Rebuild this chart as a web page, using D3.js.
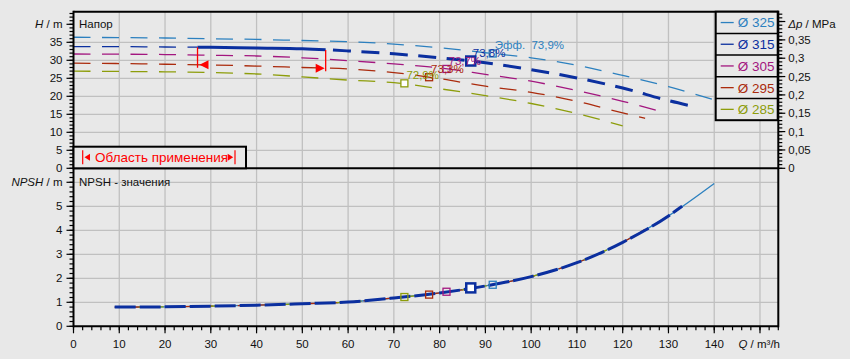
<!DOCTYPE html>
<html><head><meta charset="utf-8">
<script src="https://cdn.jsdelivr.net/npm/d3@7"></script>
<style>
html,body{margin:0;padding:0;background:#e8e8e8;}
svg{display:block;font-family:"Liberation Sans",Arial,sans-serif;}
</style></head><body>
<svg id="c" width="850" height="359"></svg>
<script>
// ---------- data ----------
const diameters = ["Ø 325","Ø 315","Ø 305","Ø 295","Ø 285"];
const colors = ["#2c80bf","#0b2f9f","#a3167f","#ab2b0d","#8d9d0b"];
const q325 = [0,10,20,30,40,50,60,70,80,90,100,110,120,130,140];
const h325 = [36.4,36.3,36.2,36.0,35.8,35.5,35.2,34.5,33.5,32.1,30.7,28.6,25.8,22.7,19.0];
const q315 = [0,10,20,30,40,50,60,70,80,90,100,110,120,130,135];
const h315 = [33.8,33.8,33.7,33.6,33.4,33.2,32.6,31.8,30.7,29.3,27.4,25.1,22.3,18.8,17.3];
const q305 = [0,10,20,30,40,50,60,70,80,90,100,110,120,129.2];
const h305 = [31.75,31.7,31.6,31.4,31.2,30.7,29.9,29.0,27.9,26.1,24.2,21.6,18.6,15.5];
const q295 = [0,10,20,30,40,50,60,70,80,90,100,110,120,124.9];
const h295 = [29.2,29.1,28.9,28.7,28.4,28.0,27.6,26.6,24.9,22.8,21.1,18.6,15.4,13.9];
const q285 = [0,10,20,30,40,50,60,70,80,90,100,110,120];
const h285 = [27.0,26.9,26.8,26.6,26.2,25.4,24.5,23.8,22.1,20.2,18.0,15.2,11.8];
const qNpsh = [9,20,30,40,50,60,70,80,90,100,110,120,130,140];
const npsh  = [0.80,0.81,0.84,0.88,0.94,1.01,1.18,1.39,1.68,2.07,2.65,3.5,4.6,5.95];
const npshEnd = [140,133,129.2,124.9,120];
const bepQ = [91.6,86.8,81.5,77.7,72.3];
const bepH = [31.9,29.8,27.6,25.3,23.6];
const bepNpsh = [1.73,1.6,1.44,1.32,1.22];
const bepLabels = ["Эфф.  73,9%","73,8%","73,7%","73,3%","72,9%"];
const rangeQ = [27.1,55.1];
const xTicks = [0,10,20,30,40,50,60,70,80,90,100,110,120,130,140];
const hTicks = [0,5,10,15,20,25,30,35];
const npshTicks = [0,1,2,3,4,5];
const dpTicks = [0,0.05,0.1,0.15,0.2,0.25,0.3,0.35];

const qs = [q325,q315,q305,q295,q285];
const hs = [h325,h315,h305,h295,h285];

// ---------- scales ----------
const svg = d3.select("#c");
const L = 73.5, R = 778.3, T = 11.7, MID = 168.3, B = 326.3;
const x = d3.scaleLinear().domain([0,154]).range([L,R]);
const yH = d3.scaleLinear().domain([0,43.5]).range([MID,T]);
const yN = d3.scaleLinear().domain([0,6.583]).range([B,MID]);
const yP = d3.scaleLinear().domain([0,43.5*0.00981]).range([MID,T]);
const comma = v => String(+v.toFixed(2)).replace(".",",");

svg.append("rect").attr("width",850).attr("height",359).attr("fill","#e8e8e8");

// ---------- grid ----------
const grid = svg.append("g").attr("stroke","#c0c0c0").attr("stroke-width",1.3);
d3.range(10,151,10).forEach(v=>{
  grid.append("line").attr("x1",x(v)).attr("x2",x(v)).attr("y1",T).attr("y2",B);
});
d3.range(5,36,5).forEach(v=>{
  grid.append("line").attr("x1",L).attr("x2",R).attr("y1",yH(v)).attr("y2",yH(v));
});
d3.range(1,7,1).forEach(v=>{
  grid.append("line").attr("x1",L).attr("x2",R).attr("y1",yN(v)).attr("y2",yN(v));
});

// ---------- clip paths ----------
const defs = svg.append("defs");
function clip(id,x0,x1){
  defs.append("clipPath").attr("id",id).append("rect")
    .attr("x",x0).attr("y",0).attr("width",x1-x0).attr("height",359);
}
clip("cA",0,x(rangeQ[0]));
clip("cB",x(rangeQ[0]),x(rangeQ[1]));
clip("cC",x(rangeQ[1]),850);

const lineH = d3.line().x(d=>x(d[0])).y(d=>yH(d[1])).curve(d3.curveMonotoneX);
const lineN = d3.line().x(d=>x(d[0])).y(d=>yN(d[1])).curve(d3.curveMonotoneX);

// ---------- H curves ----------
const gH = svg.append("g").attr("fill","none");
[4,3,2,0].forEach(i=>{
  const pts = qs[i].map((q,j)=>[q,hs[i][j]]);
  gH.append("path").attr("d",lineH(pts)).attr("stroke",colors[i])
    .attr("stroke-width",1.3).attr("stroke-dasharray","17,11.5");
});
{
  const pts = q315.map((q,j)=>[q,h315[j]]);
  gH.append("path").attr("d",lineH(pts)).attr("stroke",colors[1]).attr("stroke-width",1.3)
    .attr("stroke-dasharray","17,11.5").attr("clip-path","url(#cA)");
  gH.append("path").attr("d",lineH(pts)).attr("stroke",colors[1]).attr("stroke-width",3)
    .attr("clip-path","url(#cB)");
  gH.append("path").attr("d",lineH(pts)).attr("stroke",colors[1]).attr("stroke-width",3)
    .attr("stroke-dasharray","18,10.5").attr("stroke-dashoffset",-3).attr("clip-path","url(#cC)");
}

// ---------- application range markers ----------
function interp(qa,ha,q){
  for(let j=0;j<qa.length-1;j++){
    if(q>=qa[j]&&q<=qa[j+1]){const t=(q-qa[j])/(qa[j+1]-qa[j]);return ha[j]+t*(ha[j+1]-ha[j]);}
  }
  return ha[ha.length-1];
}
const gR = svg.append("g");
rangeQ.forEach((q,k)=>{
  const xt = x(q);
  const yTop = yH(interp(q315,h315,q));
  const yArr = yH(interp(q295,h295,q));
  gR.append("line").attr("x1",xt).attr("x2",xt).attr("y1",yTop).attr("y2",yArr+3)
    .attr("stroke","#ff0000").attr("stroke-width",1.3);
  const dir = k===0 ? 1 : -1;
  const tip = k===0 ? xt+2 : xt-1;
  gR.append("path").attr("d",`M${tip},${yArr}L${tip+dir*9},${yArr-4.5}L${tip+dir*9},${yArr+4.5}Z`)
    .attr("fill","#ff0000");
});

// ---------- BEP markers top ----------
const gM = svg.append("g");
[4,3,2,0,1].forEach(i=>{
  const sx = x(bepQ[i]), sy = yH(bepH[i]);
  const s = i===1 ? 9 : 7;
  gM.append("rect").attr("x",sx-s/2).attr("y",sy-s/2).attr("width",s).attr("height",s)
    .attr("fill", i===1 ? "#ffffff" : (i===4 ? "#ffffff":"none"))
    .attr("stroke",colors[i]).attr("stroke-width", i===1 ? 2.5 : 1.3);
});
[4,3,2,1,0].forEach(i=>{
  const sx = x(bepQ[i]), sy = yH(bepH[i]);
  gM.append("text").attr("x",sx+2).attr("y",sy-4).attr("fill",colors[i])
    .attr("font-size",11.5).attr("xml:space","preserve").text(bepLabels[i]);
});

// ---------- NPSH curves ----------
const gN = svg.append("g").attr("fill","none");
const nptsFor = end => qNpsh.map((q,j)=>[q,npsh[j]]).filter(d=>d[0]<=end+0.01)
  .concat(qNpsh.includes(end)?[]:[[end,interp(qNpsh,npsh,end)]]);
gN.append("path").attr("d",lineN(nptsFor(npshEnd[0]))).attr("stroke",colors[0]).attr("stroke-width",1.3)
  .attr("stroke-dasharray","712,6,40");
gN.append("path").attr("d",lineN(nptsFor(npshEnd[3]))).attr("stroke",colors[3]).attr("stroke-width",1.3)
  .attr("stroke-dasharray","11,7").attr("stroke-dashoffset",3);
gN.append("path").attr("d",lineN(nptsFor(npshEnd[4]))).attr("stroke",colors[4]).attr("stroke-width",1.3)
  .attr("stroke-dasharray","7,11").attr("stroke-dashoffset",-6);
gN.append("path").attr("d",lineN(nptsFor(npshEnd[1]))).attr("stroke",colors[1]).attr("stroke-width",3)
  .attr("stroke-dasharray","21,4");
[4,3,2,0,1].forEach(i=>{
  const sx = x(bepQ[i]), sy = yN(bepNpsh[i]);
  const s = i===1 ? 9 : 7;
  gN.append("rect").attr("x",sx-s/2).attr("y",sy-s/2).attr("width",s).attr("height",s)
    .attr("fill", i===1 ? "#ffffff" : "none")
    .attr("stroke",colors[i]).attr("stroke-width", i===1 ? 2.5 : 1.3);
});

// ---------- frame ----------
const gF = svg.append("g").attr("stroke","#000").attr("stroke-width",2);
gF.append("line").attr("x1",L).attr("x2",R).attr("y1",T).attr("y2",T);
gF.append("line").attr("x1",L).attr("x2",R).attr("y1",MID).attr("y2",MID);
gF.append("line").attr("x1",L).attr("x2",R).attr("y1",B).attr("y2",B);
gF.append("line").attr("x1",L).attr("x2",L).attr("y1",T-1).attr("y2",B+1);
gF.append("line").attr("x1",R).attr("x2",R).attr("y1",T-1).attr("y2",B+1);

// ---------- axes ----------
const FS = 11.5;
function tickSet(g, vals, len, pos, orient){
  vals.forEach(v=>{
    const p = pos(v);
    if(orient==="left") g.append("line").attr("x1",L-len).attr("x2",L).attr("y1",p).attr("y2",p);
    if(orient==="right") g.append("line").attr("x1",R).attr("x2",R+len).attr("y1",p).attr("y2",p);
    if(orient==="bottom") g.append("line").attr("x1",p).attr("x2",p).attr("y1",B).attr("y2",B+len);
  });
}
const gT = svg.append("g").attr("stroke","#000").attr("stroke-width",1.2);
tickSet(gT, d3.range(0,44,1), 4, yH, "left");
tickSet(gT, d3.range(0,41,5), 7, yH, "left");
tickSet(gT, d3.range(0,6.5,0.2), 4, yN, "left");
tickSet(gT, d3.range(0,7,1), 7, yN, "left");
tickSet(gT, d3.range(0,0.426,0.01).map(v=>v/0.00981), 4, yH, "right");
tickSet(gT, d3.range(0,0.41,0.05).map(v=>v/0.00981), 7, yH, "right");
tickSet(gT, d3.range(0,155,2), 4, x, "bottom");
tickSet(gT, d3.range(0,151,10), 7, x, "bottom");

const gL = svg.append("g").attr("font-size",FS).attr("fill","#111");
hTicks.forEach(v=>gL.append("text").attr("x",L-11).attr("y",yH(v)).attr("dy","0.35em")
  .attr("text-anchor","end").text(v));
npshTicks.forEach(v=>gL.append("text").attr("x",L-11).attr("y",yN(v)).attr("dy","0.35em")
  .attr("text-anchor","end").text(v));
dpTicks.forEach(v=>gL.append("text").attr("x",R+10).attr("y",yP(v)).attr("dy","0.35em")
  .text(comma(v)));
xTicks.forEach(v=>gL.append("text").attr("x",x(v)).attr("y",B+18).attr("dy","0.35em")
  .attr("text-anchor","middle").text(v));

function axisLabel(xp,yp,anchor,ital,rest){
  const t = gL.append("text").attr("x",xp).attr("y",yp).attr("dy","0.35em").attr("text-anchor",anchor);
  t.append("tspan").attr("font-style","italic").text(ital);
  t.append("tspan").text(rest);
}
axisLabel(L-11, yH(40), "end", "H", " / m");
axisLabel(L-11, yN(6), "end", "NPSH", " / m");
axisLabel(R+10, yH(40), "start", "Δp", " / MPa");
axisLabel(x(150)+20, B+18, "end", "Q", " / m³/h");

gL.append("text").attr("x",79).attr("y",yH(40)).attr("dy","0.35em").text("Напор");
gL.append("text").attr("x",79).attr("y",yN(6)).attr("dy","0.35em").text("NPSH - значения");

// ---------- legend ----------
const lgX = 715.7, lgW = 62, lgH = 21.7;
const gLg = svg.append("g");
gLg.append("rect").attr("x",lgX).attr("y",T).attr("width",lgW).attr("height",lgH*5)
  .attr("fill","#e8e8e8").attr("stroke","#000").attr("stroke-width",2);
diameters.forEach((d,i)=>{
  const cy = T + lgH*i + lgH/2;
  if(i>0) gLg.append("line").attr("x1",lgX).attr("x2",lgX+lgW).attr("y1",T+lgH*i).attr("y2",T+lgH*i)
    .attr("stroke","#000").attr("stroke-width",1.5);
  gLg.append("line").attr("x1",lgX+5).attr("x2",lgX+18).attr("y1",cy).attr("y2",cy)
    .attr("stroke",colors[i]).attr("stroke-width",1.3);
  gLg.append("text").attr("x",lgX+22).attr("y",cy).attr("dy","0.36em").attr("font-size",13.5)
    .attr("fill",colors[i]).text(d);
});

// ---------- application area box ----------
const gA = svg.append("g");
gA.append("rect").attr("x",L).attr("y",146.7).attr("width",172.5).attr("height",MID-146.7)
  .attr("fill","#e8e8e8").attr("stroke","#000").attr("stroke-width",2);
const ay = 157.3;
gA.append("line").attr("x1",82.7).attr("x2",82.7).attr("y1",ay-7).attr("y2",ay+7).attr("stroke","#ff0000").attr("stroke-width",1.2);
gA.append("path").attr("d",`M84.5,${ay}L90,${ay-3.5}L90,${ay+3.5}Z`).attr("fill","#ff0000");
gA.append("line").attr("x1",235).attr("x2",235).attr("y1",ay-7).attr("y2",ay+7).attr("stroke","#ff0000").attr("stroke-width",1.2);
gA.append("path").attr("d",`M233.2,${ay}L227.7,${ay-3.5}L227.7,${ay+3.5}Z`).attr("fill","#ff0000");
gA.append("text").attr("x",95).attr("y",ay).attr("dy","0.36em").attr("font-size",13.5)
  .attr("fill","#ff0000").text("Область применения");
</script>
</body></html>
